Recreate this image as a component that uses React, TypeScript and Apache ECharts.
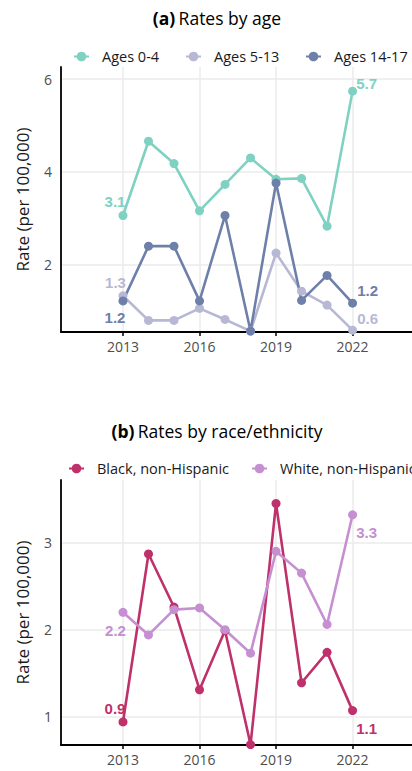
import React, { useEffect, useRef } from "react";
import * as echarts from "echarts";

const years = [2013, 2014, 2015, 2016, 2017, 2018, 2019, 2020, 2021, 2022];
const ages04 = [3.06, 4.66, 4.18, 3.16, 3.73, 4.3, 3.84, 3.86, 2.83, 5.74];
const ages513 = [1.33, 0.8, 0.8, 1.06, 0.82, 0.57, 2.25, 1.43, 1.13, 0.59];
const ages1417 = [1.22, 2.4, 2.4, 1.22, 3.06, 0.57, 3.76, 1.23, 1.77, 1.17];
const blackNH = [0.94, 2.87, 2.26, 1.31, 1.99, 0.68, 3.45, 1.39, 1.74, 1.07];
const whiteNH = [2.2, 1.94, 2.23, 2.25, 2.0, 1.73, 2.9, 2.65, 2.06, 3.32];

const xTicks = [2013, 2016, 2019, 2022];
const yTicksA = [2, 4, 6];
const yTicksB = [1, 2, 3];

const titleA = "Rates by age";
const titleB = "Rates by race/ethnicity";
const namesA = ["Ages 0-4", "Ages 5-13", "Ages 14-17"];
const namesB = ["Black, non-Hispanic", "White, non-Hispanic"];
const yName = "Rate (per 100,000)";

const colorsA = ["#7fd1c2", "#b7b8d4", "#6e80aa"];
const colorsB = ["#bf316b", "#c58fd2"];

const FONT = "'Open Sans', 'Noto Sans', sans-serif";

type Off = [number, number];

function makeData(vals: number[], startOff: Off | null, endOff: Off | null, color: string) {
  return years.map((y, i) => {
    const item: any = { value: [y, vals[i]] };
    let off: Off | null = null;
    if (i === 0) off = startOff;
    if (i === years.length - 1) off = endOff;
    if (off) {
      item.label = {
        show: true,
        position: "inside",
        offset: off,
        color,
        fontFamily: "'Liberation Sans', Arial, sans-serif",
        fontWeight: "bold",
        fontSize: 15,
        formatter: (p: any) => Number(p.value[1]).toFixed(1),
      };
    }
    return item;
  });
}

function lineSeries(name: string, vals: number[], color: string, idx: number, s: Off | null, e: Off | null) {
  return {
    name,
    type: "line",
    xAxisIndex: idx,
    yAxisIndex: idx,
    data: makeData(vals, s, e, color),
    symbol: "circle",
    symbolSize: 9,
    lineStyle: { color, width: 2.6 },
    itemStyle: { color },
    label: { show: false },
    emphasis: { disabled: true },
  };
}

function xAxis(idx: number) {
  return {
    type: "value",
    gridIndex: idx,
    min: 2010.57,
    max: 2024.33,
    axisLine: { show: true, lineStyle: { color: "#000", width: 1.8 } },
    axisTick: { show: true, customValues: xTicks, length: 4, lineStyle: { color: "#000", width: 1.5 } },
    axisLabel: {
      customValues: xTicks,
      color: "#4d4d4d",
      fontSize: 14,
      fontFamily: FONT,
      margin: 7,
      formatter: (v: number) => String(v),
    },
    splitLine: { show: true, lineStyle: { color: "#ebebeb", width: 1.5 } },
  };
}

function yAxis(idx: number, min: number, max: number, ticks: number[]) {
  return {
    type: "value",
    gridIndex: idx,
    min,
    max,
    name: yName,
    nameLocation: "middle",
    nameGap: 30,
    nameTextStyle: { color: "#1a1a1a", fontSize: 17, fontFamily: FONT },
    axisLine: { show: true, lineStyle: { color: "#000", width: 1.8 } },
    axisTick: { show: false, customValues: ticks },
    axisLabel: {
      customValues: ticks,
      color: "#4d4d4d",
      fontSize: 14,
      fontFamily: FONT,
      margin: 9,
      formatter: (v: number) => String(v),
    },
    splitLine: { show: true, lineStyle: { color: "#ebebeb", width: 1.5 } },
  };
}

function legendItem(name: string, left: number, top: number) {
  return {
    data: [name],
    left,
    top,
    padding: 0,
    itemWidth: 15,
    itemHeight: 12,
    selectedMode: false,
    textStyle: { color: "#1a1a1a", fontSize: 14.5, fontFamily: FONT, padding: [0, 0, 0, 8] },
  };
}

function titleText(tag: string, text: string, x: number, y: number) {
  return {
    type: "text",
    x,
    y,
    style: {
      text: `{b|${tag}} {r|${text}}`,
      textAlign: "center",
      textVerticalAlign: "middle",
      rich: {
        b: { fontFamily: FONT, fontSize: 17.5, fontWeight: "bold", fill: "#000" },
        r: { fontFamily: FONT, fontSize: 17.5, fill: "#000" },
      },
    },
  };
}

export default function App() {
  const ref = useRef<HTMLDivElement>(null);
  useEffect(() => {
    if (!ref.current) return;
    const chart = echarts.init(ref.current, null, { renderer: "svg" });
    chart.setOption({
      animation: false,
      backgroundColor: "#fff",
      graphic: [titleText("(a)", titleA, 217, 18), titleText("(b)", titleB, 217, 431)],
      legend: [
        legendItem(namesA[0], 73, 49),
        legendItem(namesA[1], 185, 49),
        legendItem(namesA[2], 305, 49),
        legendItem(namesB[0], 68, 461),
        legendItem(namesB[1], 251, 461),
      ],
      grid: [
        { left: 61, top: 67, right: 0, height: 265, containLabel: false },
        { left: 61, top: 480, right: 0, height: 265, containLabel: false },
      ],
      xAxis: [xAxis(0), xAxis(1)],
      yAxis: [yAxis(0, 0.55, 6.26, yTicksA), yAxis(1, 0.675, 3.72, yTicksB)],
      series: [
        lineSeries(namesA[0], ages04, colorsA[0], 0, [-8, -14], [14, -8]),
        lineSeries(namesA[1], ages513, colorsA[1], 0, [-7.5, -13], [15, -12]),
        lineSeries(namesA[2], ages1417, colorsA[2], 0, [-8, 17], [15, -13]),
        lineSeries(namesB[0], blackNH, colorsB[0], 1, [-8, -13], [14, 18]),
        lineSeries(namesB[1], whiteNH, colorsB[1], 1, [-7.5, 18], [14, 17.6]),
      ],
    });
    return () => chart.dispose();
  }, []);
  return (
    <div
      ref={ref}
      style={{ position: "absolute", left: 0, top: 0, width: 412, height: 771 }}
    />
  );
}
